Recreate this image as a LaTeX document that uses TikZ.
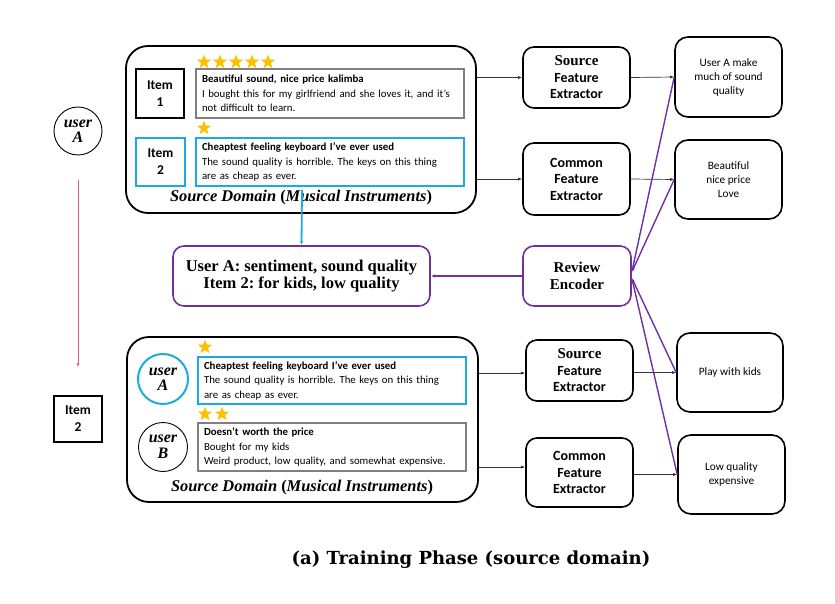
\documentclass[tikz,border=0pt]{standalone}
\usepackage{fontspec}
\setmainfont{Carlito}
\newfontfamily\serf{Liberation Serif}
\newfontfamily\capf{DejaVu Serif}
\usetikzlibrary{shapes.geometric,arrows.meta}
\definecolor{bluec}{HTML}{1DA9E1}
\definecolor{purpc}{HTML}{7030A0}
\definecolor{goldc}{HTML}{FFC000}
\definecolor{grayc}{HTML}{7F7F7F}
\definecolor{redc}{HTML}{E06070}
\frenchspacing
\tikzset{
  outer/.style={draw=black,line width=1.8pt,rounded corners=22pt,inner sep=0pt},
  itembox/.style={draw=black,line width=1.1pt,inner sep=0pt,align=center,font=\fontsize{13.5}{17}\selectfont\bfseries},
  revbox/.style={draw=grayc,line width=1.1pt,inner sep=0pt,align=left},
  revtxt/.style={inner sep=0pt,text width=260pt,align=left,font=\fontsize{10.8}{14.5}\selectfont},
  bluebox/.style={draw=bluec,line width=2pt,inner sep=0pt},
  fe/.style={draw=black,line width=1.6pt,rounded corners=11pt,inner sep=0pt,align=center,font=\fontsize{14}{16.5}\selectfont\bfseries},
  outbox/.style={draw=black,line width=1.6pt,rounded corners=13pt,inner sep=0pt,align=center,font=\fontsize{11.3}{14}\selectfont},
  ucirc/.style={circle,draw=black,line width=0.9pt,inner sep=0pt,align=center,font=\fontsize{16}{15.5}\selectfont\serf\bfseries\itshape},
  sdlabel/.style={inner sep=0pt,font=\fontsize{16.4}{17}\selectfont\serf\bfseries},
  staro/.style={star,star points=5,star point ratio=2.4,fill=goldc,inner sep=0pt,minimum size=15pt},
  arr/.style={-{Latex[length=4pt,width=3pt]},line width=0.7pt,draw=black!80},
  parr/.style={-{Latex[length=4pt,width=3pt]},line width=1.4pt,draw=purpc},
  purpbox/.style={draw=purpc,line width=1.6pt,rounded corners=11pt,inner sep=0pt,align=center},
}
\begin{document}
\begin{tikzpicture}[x=1pt,y=-1pt]
\useasboundingbox (0,0) rectangle (835,604);
% left user A and item 2
\node[ucirc,minimum size=48pt] (uA) at (78,131) {user\\A};
\coordinate (rs) at (78,180);
\coordinate (re) at (78,367);
\draw[-{Latex[length=4pt,width=3pt]},draw=redc,line width=0.5pt] (rs) -- (re);
\node[itembox,minimum width=48pt,minimum height=46pt] (it2l) at (78,419) {Item\\\textbf{2}};

% top source domain
\node[outer,minimum width=350pt,minimum height=167pt] (top) at (301,129.5) {};
\node[itembox,minimum width=48pt,minimum height=49pt] (it1) at (160,93.5) {Item\\\textbf{1}};
\node[revbox,minimum width=268pt,minimum height=49pt] (rv1) at (330,93.5) {};
\node[revtxt] (rv1t) at (332,93.5) {\textbf{Beautiful sound, nice price kalimba}\\I bought this for my girlfriend and she loves it, and it’s\\not difficult to learn.};
\node[itembox,draw=bluec,line width=2pt,minimum width=49pt,minimum height=48pt] (it2) at (160.5,162) {Item\\\textbf{2}};
\node[bluebox,minimum width=268pt,minimum height=48pt] (rv2) at (330,162) {};
\node[revtxt] (rv2t) at (332,162) {\textbf{Cheaptest feeling keyboard I’ve ever used}\\The sound quality is horrible. The keys on this thing\\are as cheap as ever.};
\node[sdlabel] (sd1) at (301,198) {\itshape Source Domain \upshape(\itshape Musical Instruments\upshape)};
\foreach \i/\x in {1/204,2/220,3/236,4/252,5/268} \node[staro] (sa\i) at (\x,62) {};
\node[staro] (sb1) at (204,128) {};

% middle
\node[purpbox,minimum width=257pt,minimum height=60pt,font=\fontsize{16.5}{17.5}\selectfont\serf\bfseries] (pb) at (301.5,276) {User A: sentiment, sound quality\\Item 2: for kids, low quality};
\coordinate (bs) at (302,190);
\draw[-{Latex[length=4pt,width=3pt]},draw=bluec,line width=1.8pt] (bs) -- (pb.north);
\node[purpbox,minimum width=108pt,minimum height=60pt,font=\fontsize{15}{16.5}\selectfont\serf\bfseries] (re1) at (577,276) {Review\\Encoder};
\draw[parr] (re1.west) -- (pb.east);

% top extractors
\node[fe,minimum width=107pt,minimum height=61pt] (sfe1) at (576.5,77.5) {{\serf\fontsize{15}{16.5}\selectfont Source}\\Feature\\Extractor};
\node[fe,minimum width=107pt,minimum height=72pt] (cfe1) at (576.5,179) {Common\\Feature\\Extractor};
\node[outbox,minimum width=107pt,minimum height=80pt] (o1) at (728.5,77) {User A make\\much of sound\\quality};
\node[outbox,minimum width=107pt,minimum height=79pt] (o2) at (728.5,179.5) {Beautiful\\nice price\\Love};
\draw[arr] (top.east |- sfe1.west) -- (sfe1.west);
\draw[arr] (top.east |- cfe1.west) -- (cfe1.west);
\draw[arr] (sfe1.east) -- (o1.west);
\draw[arr] (cfe1.east) -- (o2.west);

% bottom source domain
\node[outer,minimum width=351pt,minimum height=165pt] (bot) at (302.5,419.5) {};
\node[ucirc,draw=bluec,line width=2pt,minimum size=50pt] (uA2) at (163,379) {user\\A};
\node[ucirc,minimum size=49pt] (uB) at (163,447) {user\\B};
\node[bluebox,minimum width=268pt,minimum height=47pt] (rva) at (332,380.5) {};
\node[revtxt] (rvat) at (334,380.5) {\textbf{Cheaptest feeling keyboard I’ve ever used}\\The sound quality is horrible. The keys on this thing\\are as cheap as ever.};
\node[revbox,minimum width=268pt,minimum height=48pt] (rvb) at (332,447) {};
\node[revtxt] (rvbt) at (334,447) {\textbf{Doesn’t worth the price}\\Bought for my kids\\Weird product, low quality, and somewhat expensive.};
\node[sdlabel] (sd2) at (302,488) {\itshape Source Domain \upshape(\itshape Musical Instruments\upshape)};
\node[staro] (sc1) at (205,347) {};
\node[staro] (sd1s) at (205,414) {};
\node[staro] (sd2s) at (222,414) {};

% bottom extractors
\node[fe,minimum width=107pt,minimum height=61pt] (sfe2) at (579.5,370.5) {{\serf\fontsize{15}{16.5}\selectfont Source}\\Feature\\Extractor};
\node[fe,minimum width=107pt,minimum height=69pt] (cfe2) at (579.5,472.5) {Common\\Feature\\Extractor};
\node[outbox,minimum width=106pt,minimum height=79pt] (o3) at (730,372.5) {Play with kids};
\node[outbox,minimum width=107pt,minimum height=79pt] (o4) at (731.5,474.5) {Low quality\\expensive};
\draw[arr] (bot.east |- 0,373) -- (sfe2.west |- 0,373);
\draw[arr] (bot.east |- 0,467) -- (cfe2.west |- 0,467);
\draw[arr] (sfe2.east |- o3.west) -- (o3.west);
\draw[arr] (cfe2.east |- o4.west) -- (o4.west);

% purple review links
\draw[parr] (o1.west) -- ([yshift=4pt]re1.east);
\draw[parr] (o2.west) -- ([yshift=4pt]re1.east);
\draw[parr] (o3.west) -- ([yshift=-2pt]re1.east);
\draw[parr] (o4.west) -- ([yshift=-2pt]re1.east);

% caption
\node[inner sep=0pt,font=\fontsize{18}{20}\selectfont\capf\bfseries] (cap) at (471,560) {(a) Training Phase (source domain)};
\end{tikzpicture}
\end{document}
